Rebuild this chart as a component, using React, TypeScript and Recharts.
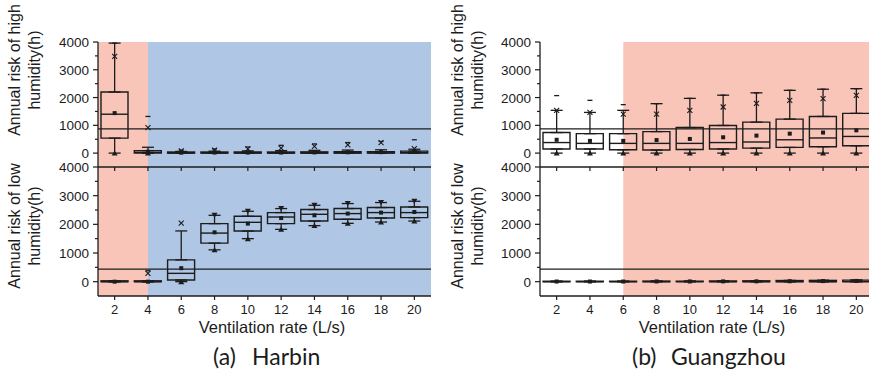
import React from 'react'
import { ComposedChart, XAxis, YAxis, Bar, Scatter, ErrorBar, ReferenceArea, ReferenceLine } from 'recharts'

const rates = [2, 4, 6, 8, 10, 12, 14, 16, 18, 20]
const yTicks = [0, 500, 1000, 1500, 2000, 2500, 3000, 3500, 4000]

// Harbin - high humidity
const hbHighQ1 = [540, 0, 0, 0, 0, 0, 0, 0, 0, 0]
const hbHighMed = [1400, 30, 5, 5, 5, 5, 5, 10, 10, 20]
const hbHighQ3 = [2200, 90, 40, 40, 40, 40, 45, 50, 55, 70]
const hbHighMean = [1440, 50, 15, 20, 20, 20, 25, 30, 35, 40]
const hbHighLo = [0, 0, 0, 0, 0, 0, 0, 0, 0, 0]
const hbHighHi = [3960, 210, 60, 70, 80, 90, 100, 110, 120, 140]
const hbHighCross = [3480, 920, 80, 110, 150, 180, 240, 300, 380, 160]
const hbHighDash = [3960, 1320, 110, 150, 220, 280, 330, 380, 420, 480]
const hbHighDown = [null, null, null, null, null, null, null, null, null, null]
const hbHighUp = [0, 0, null, null, null, null, null, null, null, null]

// Harbin - low humidity
const hbLowQ1 = [0, 0, 60, 1345, 1765, 2025, 2115, 2175, 2220, 2235]
const hbLowMed = [0, 0, 290, 1695, 2070, 2255, 2350, 2375, 2410, 2410]
const hbLowQ3 = [30, 30, 760, 2025, 2280, 2410, 2515, 2550, 2585, 2605]
const hbLowMean = [0, 0, 470, 1720, 2025, 2220, 2315, 2375, 2410, 2430]
const hbLowLo = [0, 0, 0, 1110, 1500, 1825, 1955, 2035, 2080, 2115]
const hbLowHi = [0, 0, 1770, 2315, 2455, 2550, 2665, 2725, 2760, 2805]
const hbLowCross = [null, 290, 2045, null, null, null, null, null, null, null]
const hbLowDash = [null, 380, null, null, null, null, null, null, null, null]
const hbLowDown = [null, null, null, 2315, 2455, 2550, 2665, 2725, 2760, 2805]
const hbLowUp = [null, null, 0, 1110, 1500, 1825, 1955, 2035, 2080, 2115]

// Guangzhou - high humidity
const gzHighQ1 = [150, 150, 120, 110, 130, 150, 180, 205, 230, 265]
const gzHighMed = [380, 350, 350, 350, 350, 380, 400, 480, 545, 600]
const gzHighQ3 = [740, 700, 700, 775, 920, 995, 1115, 1225, 1320, 1430]
const gzHighMean = [480, 440, 440, 470, 510, 570, 630, 700, 740, 820]
const gzHighLo = [0, 0, 0, 0, 0, 0, 0, 0, 0, 0]
const gzHighHi = [1540, 1465, 1540, 1780, 1970, 2085, 2170, 2260, 2300, 2320]
const gzHighCross = [1540, 1465, 1405, 1405, 1540, 1660, 1790, 1900, 1960, 2080]
const gzHighDash = [2070, 1900, 1745, 1780, 1970, 2085, 2170, 2260, 2300, 2320]
const gzHighDown = [null, null, null, null, null, null, null, null, null, null]
const gzHighUp = [0, 0, 0, 0, 0, 0, 0, 0, 0, 0]

// Guangzhou - low humidity
const gzLowQ1 = [0, 0, 0, 0, 0, 0, 0, 0, 0, 0]
const gzLowMed = [0, 0, 0, 0, 0, 0, 0, 0, 0, 0]
const gzLowQ3 = [15, 15, 15, 20, 20, 25, 30, 40, 45, 55]
const gzLowMean = [5, 5, 5, 8, 8, 10, 12, 15, 20, 25]
const gzLowLo = [0, 0, 0, 0, 0, 0, 0, 0, 0, 0]
const gzLowHi = [15, 15, 15, 20, 20, 25, 30, 40, 45, 55]
const gzLowCross = [null, null, null, null, null, null, null, null, null, null]
const gzLowDash = [null, null, null, null, null, null, null, null, null, null]
const gzLowDown = [null, null, null, null, null, null, null, null, null, null]
const gzLowUp = [null, null, null, null, null, null, null, null, null, null]

const PINK = '#F9C5B9'
const BLUE = '#AFC6E4'
const INK = '#1c1c1c'
const FONT = '"Liberation Sans", Arial, sans-serif'
const CAP_FONT = 'Lato, "Noto Sans", sans-serif'
const BOX_W = 27

type Vals = (number | null)[]
type Set = {
  q1: number[]; med: number[]; q3: number[]; mean: number[]; lo: number[]; hi: number[]
  cross: Vals; dash: Vals; down: Vals; up: Vals
}

const hbHigh: Set = { q1: hbHighQ1, med: hbHighMed, q3: hbHighQ3, mean: hbHighMean, lo: hbHighLo, hi: hbHighHi, cross: hbHighCross, dash: hbHighDash, down: hbHighDown, up: hbHighUp }
const hbLow: Set = { q1: hbLowQ1, med: hbLowMed, q3: hbLowQ3, mean: hbLowMean, lo: hbLowLo, hi: hbLowHi, cross: hbLowCross, dash: hbLowDash, down: hbLowDown, up: hbLowUp }
const gzHigh: Set = { q1: gzHighQ1, med: gzHighMed, q3: gzHighQ3, mean: gzHighMean, lo: gzHighLo, hi: gzHighHi, cross: gzHighCross, dash: gzHighDash, down: gzHighDown, up: gzHighUp }
const gzLow: Set = { q1: gzLowQ1, med: gzLowMed, q3: gzLowQ3, mean: gzLowMean, lo: gzLowLo, hi: gzLowHi, cross: gzLowCross, dash: gzLowDash, down: gzLowDown, up: gzLowUp }

const Nothing = () => <g />

const BoxShape = (p: any) => {
  const { x, y, width, height } = p
  if (x == null || isNaN(y)) return <g />
  return (
    <path
      d={`M${x},${y}h${width}v${height}h${-width}Z`}
      fill="none"
      stroke={INK}
      strokeWidth={1.4}
    />
  )
}

const MedianShape = (p: any) => (
  <line x1={p.cx - BOX_W / 2} x2={p.cx + BOX_W / 2} y1={p.cy} y2={p.cy} stroke={INK} strokeWidth={1.4} />
)
const MeanShape = (p: any) => <rect x={p.cx - 2} y={p.cy - 2} width={4} height={4} fill={INK} />
const CrossShape = (p: any) => (
  <path d={`M${p.cx - 2.5},${p.cy - 2.5}L${p.cx + 2.5},${p.cy + 2.5}M${p.cx - 2.5},${p.cy + 2.5}L${p.cx + 2.5},${p.cy - 2.5}`} stroke={INK} strokeWidth={1.1} />
)
const DashShape = (p: any) => (
  <line x1={p.cx - 2.5} x2={p.cx + 2.5} y1={p.cy} y2={p.cy} stroke={INK} strokeWidth={1.3} />
)
const DownShape = (p: any) => (
  <path d={`M${p.cx - 3},${p.cy - 2.5}L${p.cx + 3},${p.cy - 2.5}L${p.cx},${p.cy + 2.5}Z`} fill={INK} />
)
const UpShape = (p: any) => (
  <path d={`M${p.cx - 3},${p.cy + 2.5}L${p.cx + 3},${p.cy + 2.5}L${p.cx},${p.cy - 2.5}Z`} fill={INK} />
)

const YTick = (props: any) => {
  const { x, y, payload } = props
  const major = payload.value % 1000 === 0
  return (
    <g>
      <line x1={major ? x + 4 : x + 6} x2={x + 9} y1={y} y2={y} stroke={INK} strokeWidth={1.2} />
      {major && (
        <text x={x} y={y} dy={5} textAnchor="end" fontSize={13.5} fontFamily={FONT} fill={INK}>
          {payload.value}
        </text>
      )}
    </g>
  )
}

type Shade = { from: number; to: number; color: string }

type PanelProps = {
  s: Set
  left: number
  width: number
  height: number
  margin: { top: number; right: number; bottom: number; left: number }
  shades: Shade[]
  refY: number
  bottomAxis: boolean
}

function BoxPanel({ s, left, width, height, margin, shades, refY, bottomAxis }: PanelProps) {
  const rows = rates.map((r, i) => ({
    x: r,
    box: [s.q1[i], s.q3[i]],
    q1: s.q1[i],
    q3: s.q3[i],
    med: s.med[i],
    mean: s.mean[i],
    errLo: [s.q1[i] - s.lo[i], 0],
    errHi: [0, s.hi[i] - s.q3[i]]
  }))
  const pts = (arr: Vals) =>
    rates.map((r, i) => ({ x: r, y: arr[i] })).filter((d) => d.y !== null)

  return (
    <div style={{ position: 'absolute', left, top: 0 }}>
      <ComposedChart width={width} height={height} data={rows} margin={margin}>
        <XAxis
          type="number"
          dataKey="x"
          domain={[1, 21]}
          ticks={rates}
          interval={0}
          allowDataOverflow
          height={bottomAxis ? 44 : 5}
          tickSize={4}
          tickMargin={5}
          axisLine={{ stroke: INK, strokeWidth: 1.3 }}
          tickLine={{ stroke: INK, strokeWidth: 1.2 }}
          tick={bottomAxis ? { fontSize: 13, fontFamily: FONT, fill: INK } : Nothing}
        />
        <YAxis
          type="number"
          domain={[-500, 4000]}
          allowDataOverflow
          ticks={yTicks}
          interval={0}
          width={40}
          tickSize={5}
          tickMargin={4}
          tickLine={false}
          axisLine={{ stroke: INK, strokeWidth: 1.3 }}
          tick={<YTick />}
        />
        {shades.map((a) => (
          <ReferenceArea key={a.from} x1={a.from} x2={a.to} fill={a.color} fillOpacity={1} stroke="none" ifOverflow="hidden" />
        ))}
        <ReferenceLine y={refY} stroke={INK} strokeWidth={1.3} />
        <Bar dataKey="box" barSize={BOX_W} shape={BoxShape} isAnimationActive={false} />
        <Scatter dataKey="q3" shape={Nothing} isAnimationActive={false}>
          <ErrorBar dataKey="errHi" direction="y" width={6} stroke={INK} strokeWidth={1.3} />
        </Scatter>
        <Scatter dataKey="q1" shape={Nothing} isAnimationActive={false}>
          <ErrorBar dataKey="errLo" direction="y" width={6} stroke={INK} strokeWidth={1.3} />
        </Scatter>
        <Scatter dataKey="med" shape={MedianShape} isAnimationActive={false} />
        <Scatter dataKey="mean" shape={MeanShape} isAnimationActive={false} />
        <Scatter data={pts(s.cross)} dataKey="y" shape={CrossShape} isAnimationActive={false} />
        <Scatter data={pts(s.dash)} dataKey="y" shape={DashShape} isAnimationActive={false} />
        <Scatter data={pts(s.down)} dataKey="y" shape={DownShape} isAnimationActive={false} />
        <Scatter data={pts(s.up)} dataKey="y" shape={UpShape} isAnimationActive={false} />
      </ComposedChart>
    </div>
  )
}

const TitleY = ({ x, y, lines }: { x: number; y: number; lines: string[] }) => (
  <g>
    {lines.map((t, i) => (
      <text
        key={t}
        x={x + i * 20}
        y={y}
        transform={`rotate(-90 ${x + i * 20} ${y})`}
        textAnchor="middle"
        fontSize={16}
        fontFamily={FONT}
        fill={INK}
      >
        {t}
      </text>
    ))}
  </g>
)

const Caption = ({ x, tag, city }: { x: number; tag: string; city: string }) => (
  <text x={x} y={365} fontSize={23} fontFamily={CAP_FONT} fill={INK}>
    <tspan>{tag}</tspan>
    <tspan x={x + 39}>{city}</tspan>
  </text>
)

export default function App() {
  const hbShades = [
    { from: 1, to: 4, color: PINK },
    { from: 4, to: 21, color: BLUE }
  ]
  const gzShades = [{ from: 6, to: 21, color: PINK }]
  const hbHighM = { top: 42, right: 9, bottom: 0, left: 58 }
  const hbLowM = { top: 167, right: 9, bottom: 0, left: 58 }
  const gzHighM = { top: 42, right: 7, bottom: 0, left: 60 }
  const gzLowM = { top: 167, right: 7, bottom: 0, left: 60 }

  return (
    <div style={{ position: 'absolute', left: 0, top: 0, width: 869, height: 374, overflow: 'hidden', background: '#fff' }}>
      <BoxPanel s={hbLow} left={0} width={440} height={340} margin={hbLowM} shades={hbShades} refY={438} bottomAxis />
      <BoxPanel s={hbHigh} left={0} width={440} height={172} margin={hbHighM} shades={hbShades} refY={876} bottomAxis={false} />
      <BoxPanel s={gzLow} left={440} width={440} height={340} margin={gzLowM} shades={gzShades} refY={438} bottomAxis />
      <BoxPanel s={gzHigh} left={440} width={440} height={172} margin={gzHighM} shades={gzShades} refY={876} bottomAxis={false} />
      <svg width={869} height={374} style={{ position: 'absolute', left: 0, top: 0, pointerEvents: 'none' }}>
        <TitleY x={20} y={70} lines={['Annual risk of high', 'humidity(h)']} />
        <TitleY x={20} y={226} lines={['Annual risk of low', 'humidity(h)']} />
        <TitleY x={463} y={70} lines={['Annual risk of high', 'humidity(h)']} />
        <TitleY x={463} y={226} lines={['Annual risk of low', 'humidity(h)']} />
        <text x={272} y={333} textAnchor="middle" fontSize={16.5} fontFamily={FONT} fill={INK}>
          Ventilation rate (L/s)
        </text>
        <text x={712} y={333} textAnchor="middle" fontSize={16.5} fontFamily={FONT} fill={INK}>
          Ventilation rate (L/s)
        </text>
        <Caption x={213} tag="(a)" city="Harbin" />
        <Caption x={632} tag="(b)" city="Guangzhou" />
      </svg>
    </div>
  )
}
